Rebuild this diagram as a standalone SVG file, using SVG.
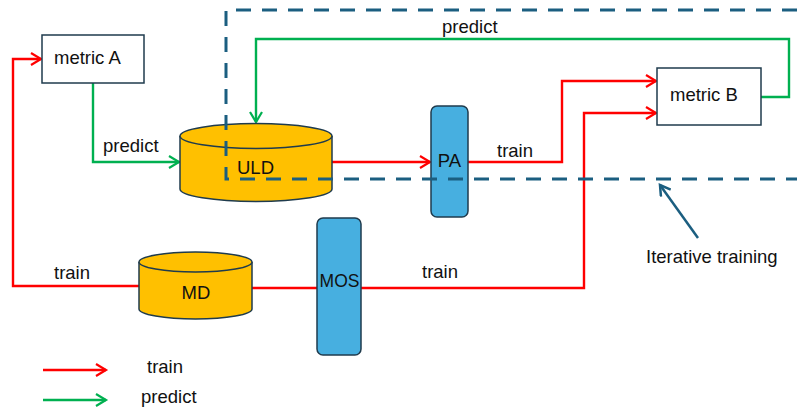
<svg xmlns="http://www.w3.org/2000/svg" width="797" height="410" viewBox="0 0 797 410">
<defs>
<marker id="ar" markerWidth="14" markerHeight="14" refX="11" refY="7" orient="auto" markerUnits="userSpaceOnUse">
<polyline points="1,1 11,7 1,13" fill="none" stroke="#FF0000" stroke-width="2.2"/>
</marker>
<marker id="ag" markerWidth="14" markerHeight="14" refX="11" refY="7" orient="auto" markerUnits="userSpaceOnUse">
<polyline points="1,1 11,7 1,13" fill="none" stroke="#00B050" stroke-width="2.2"/>
</marker>
<marker id="ab" markerWidth="14" markerHeight="14" refX="11" refY="7" orient="auto" markerUnits="userSpaceOnUse">
<polyline points="1,1 11,7 1,13" fill="none" stroke="#1B5E80" stroke-width="2.5"/>
</marker>
<style>
text{font-family:"Liberation Sans",Arial,sans-serif;font-size:18.5px;fill:#111}
.box{fill:#fff;stroke:#1F3B4D;stroke-width:1.5}
.cyl{fill:#FFC000;stroke:#1F3B4D;stroke-width:1.5}
.blk{fill:#47AFE0;stroke:#1F3B4D;stroke-width:1.5}
.r{fill:none;stroke:#FF0000;stroke-width:2.4}
.g{fill:none;stroke:#00B050;stroke-width:2.4}
.dash{fill:none;stroke:#1B5E80;stroke-width:3;stroke-dasharray:15 11}
</style>
</defs>
<g id="connectors">
<polyline class="r" points="139,286 13,286 13,59 41,59" marker-end="url(#ar)"/>
<polyline class="g" points="93,83 93,162 179,162" marker-end="url(#ag)"/>
<polyline class="g" points="761,97 789,97 789,39 256,39 256,122" marker-end="url(#ag)"/>
<polyline class="r" points="332,162 430,162" marker-end="url(#ar)"/>
<polyline class="r" points="468,162 562,162 562,81 656,81" marker-end="url(#ar)"/>
<polyline class="r" points="252,288 317,288"/>
<polyline class="r" points="361,288 584,288 584,113 656,113" marker-end="url(#ar)"/>
<line x1="698" y1="238" x2="660" y2="185" stroke="#1B5E80" stroke-width="2.5" marker-end="url(#ab)"/>
<line class="r" x1="43" y1="370" x2="106" y2="370" marker-end="url(#ar)"/>
<line class="g" x1="43" y1="400" x2="106" y2="400" marker-end="url(#ag)"/>
</g>
<g id="metricA">
<rect class="box" x="42" y="35" width="102" height="48"/>
<text x="54" y="64">metric A</text>
</g>
<g id="metricB">
<rect class="box" x="657" y="68" width="104" height="57"/>
<text x="670" y="101">metric B</text>
</g>
<g id="ULD">
<path class="cyl" d="M180,136 A76,12.5 0 0 1 332,136 L332,189 A76,12.5 0 0 1 180,189 Z"/>
<path class="cyl" d="M180,136 A76,12.5 0 0 0 332,136" fill="none"/>
<text x="237" y="174">ULD</text>
</g>
<g id="MD">
<path class="cyl" d="M139,262 A56.5,10 0 0 1 252,262 L252,309 A56.5,10 0 0 1 139,309 Z"/>
<path class="cyl" d="M139,262 A56.5,10 0 0 0 252,262" fill="none"/>
<text x="196" y="299" text-anchor="middle">MD</text>
</g>
<g id="PA">
<rect class="blk" x="431" y="106" width="37" height="111" rx="6"/>
<text x="449.5" y="167" text-anchor="middle">PA</text>
</g>
<g id="MOS">
<rect class="blk" x="317" y="218" width="44" height="137" rx="6"/>
<text x="339.5" y="287" text-anchor="middle" style="font-size:17.5px">MOS</text>
</g>
<g id="labels">
<text x="103" y="152">predict</text>
<text x="442" y="33">predict</text>
<text x="497" y="157">train</text>
<text x="54" y="279">train</text>
<text x="422" y="278">train</text>
<text x="646" y="263">Iterative training</text>
<text x="147" y="373">train</text>
<text x="141" y="403">predict</text>
</g>
<g id="iterative">
<path class="dash" d="M797,10 L226,10 L226,179 L797,179"/>
</g>
</svg>
